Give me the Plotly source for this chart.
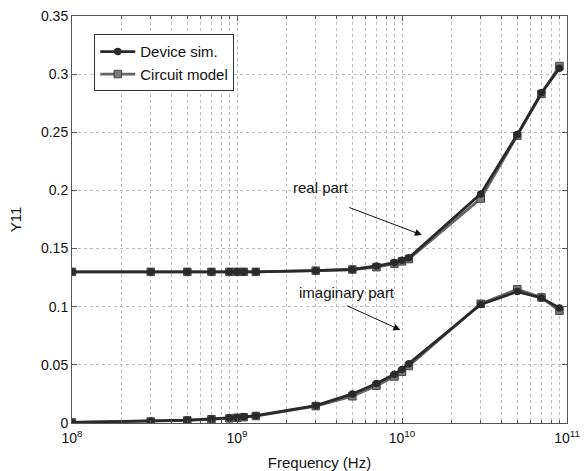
import math
import plotly.graph_objects as go

freq = [1e8, 3e8, 5e8, 7e8, 9e8, 1e9, 1.1e9, 1.3e9, 3e9, 5e9, 7e9, 9e9, 1e10, 1.1e10, 3e10, 5e10, 7e10, 9e10]

real_dev = [0.130, 0.130, 0.130, 0.130, 0.130, 0.130, 0.130, 0.130, 0.131, 0.132, 0.135, 0.138, 0.140, 0.142, 0.197, 0.248, 0.284, 0.305]
real_cir = [0.130, 0.130, 0.130, 0.130, 0.130, 0.130, 0.130, 0.130, 0.131, 0.132, 0.134, 0.137, 0.139, 0.141, 0.193, 0.247, 0.283, 0.307]
imag_dev = [0.0005, 0.0015, 0.0025, 0.0035, 0.0042, 0.0048, 0.0053, 0.0063, 0.0150, 0.0250, 0.0340, 0.0420, 0.0460, 0.0510, 0.1020, 0.1130, 0.1075, 0.0990]
imag_cir = [0.0005, 0.0013, 0.0022, 0.0032, 0.0040, 0.0045, 0.0050, 0.0060, 0.0145, 0.0230, 0.0320, 0.0400, 0.0440, 0.0490, 0.1025, 0.1150, 0.1080, 0.0965]

x_tickvals = [1e8, 1e9, 1e10, 1e11]
x_ticktext = ["10<sup>8</sup>", "10<sup>9</sup>", "10<sup>10</sup>", "10<sup>11</sup>"]
y_tickvals = [0, 0.05, 0.1, 0.15, 0.2, 0.25, 0.3, 0.35]

minor_vals = [m * 10 ** e for e in (8, 9, 10) for m in range(2, 10)]

dev_style = dict(color="#2a2a2a", width=2.8)
cir_style = dict(color="#666666", width=2.8)
dev_marker = dict(symbol="circle", size=7.5, color="#2a2a2a")
cir_marker = dict(symbol="square", size=7.5, color="#7a7a7a", line=dict(color="#444", width=1))

fig = go.Figure()
fig.add_trace(go.Scatter(x=freq, y=real_cir, mode="lines+markers", line=cir_style, marker=cir_marker,
                         name="Circuit model", showlegend=False))
fig.add_trace(go.Scatter(x=freq, y=imag_cir, mode="lines+markers", line=cir_style, marker=cir_marker,
                         name="Circuit model", showlegend=False))
fig.add_trace(go.Scatter(x=freq, y=real_dev, mode="lines+markers", line=dev_style, marker=dev_marker,
                         name="Device sim.", legendrank=1))
fig.add_trace(go.Scatter(x=freq, y=imag_dev, mode="lines+markers", line=dev_style, marker=dev_marker,
                         name="Device sim.", showlegend=False))
fig.add_trace(go.Scatter(x=[None], y=[None], mode="lines+markers", line=cir_style, marker=cir_marker,
                         name="Circuit model", legendrank=2))

font = "Liberation Sans, Arial, sans-serif"

fig.update_layout(
    width=586, height=471,
    margin=dict(l=72, r=19, t=16, b=48),
    paper_bgcolor="white", plot_bgcolor="white",
    font=dict(family=font, size=13, color="#111"),
    legend=dict(x=0.045, y=0.955, xanchor="left", yanchor="top",
                bgcolor="white", bordercolor="#333", borderwidth=1,
                font=dict(size=15, family=font, color="#111"),
                tracegroupgap=0, itemwidth=35),
    xaxis=dict(
        type="log", range=[8, 11], automargin=False,
        tickvals=x_tickvals, ticktext=x_ticktext,
        showgrid=True, gridcolor="#bbbbbb", griddash="dot", gridwidth=1,
        ticks="inside", ticklen=5, tickcolor="#555",
        minor=dict(tickvals=minor_vals, showgrid=True, gridcolor="#bbbbbb", griddash="dot",
                   ticks="inside", ticklen=3, tickcolor="#555"),
        showline=True, linecolor="#555", linewidth=1, mirror="ticks",
        zeroline=False,
        ticklabelstandoff=2,
        title=dict(text="Frequency (Hz)", font=dict(size=15)),
        tickfont=dict(size=14),
    ),
    yaxis=dict(
        range=[0, 0.35], automargin=False,
        tickvals=y_tickvals,
        showgrid=True, gridcolor="#bbbbbb", griddash="dot", gridwidth=1,
        ticks="inside", ticklen=5, tickcolor="#555",
        showline=True, linecolor="#555", linewidth=1, mirror="ticks",
        zeroline=False,
        title=dict(text="Y11", font=dict(size=15)),
        tickfont=dict(size=14),
    ),
)

fig.add_annotation(x=math.log10(1.32e10), y=0.1617, xref="x", yref="y",
                   ax=-74, ay=-28, showarrow=True, arrowhead=2, arrowsize=1.4,
                   arrowwidth=1, arrowcolor="#111", text="")
fig.add_annotation(x=9.509, y=0.2021, xref="x", yref="y", text="real part",
                   showarrow=False, font=dict(size=15, color="#111"))
fig.add_annotation(x=9.99, y=0.080, xref="x", yref="y",
                   ax=-55, ay=-25, showarrow=True, arrowhead=2, arrowsize=1.4,
                   arrowwidth=1, arrowcolor="#111", text="")
fig.add_annotation(x=9.667, y=0.1118, xref="x", yref="y", text="imaginary part",
                   showarrow=False, font=dict(size=15, color="#111"))

fig.write_html("out.html")
